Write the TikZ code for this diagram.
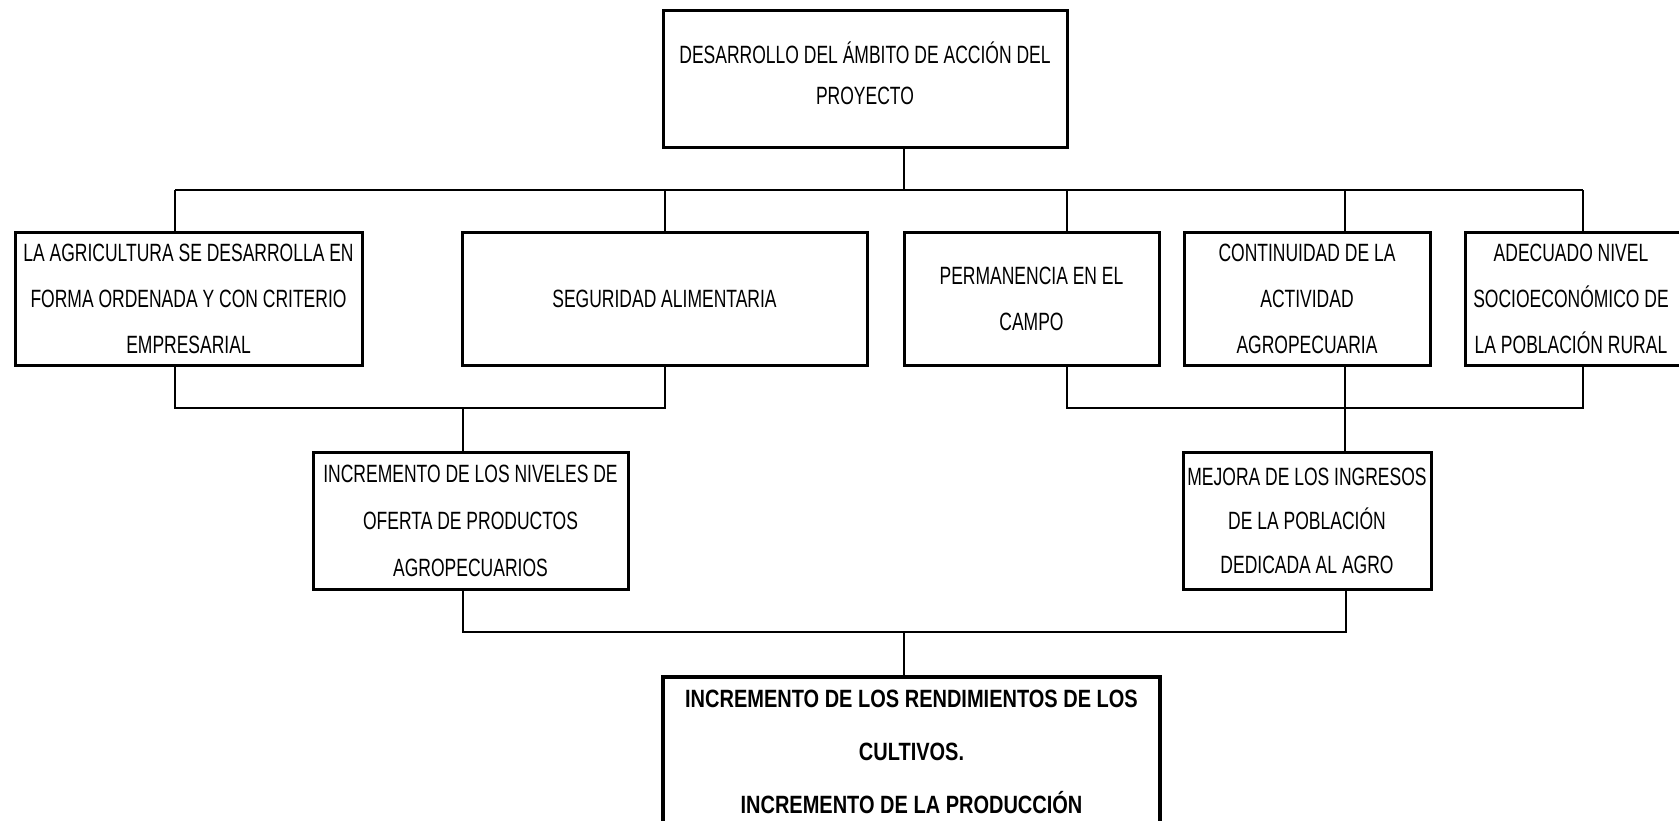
\documentclass[tikz,border=0pt]{standalone}
\usepackage{fontspec}
\setmainfont[FakeStretch=0.70, BoldFeatures={FakeStretch=0.80}]{Liberation Sans}
\begin{document}
\begin{tikzpicture}[x=1pt,y=-1pt,
  box/.style={draw, line width=3pt, inner sep=0pt, align=center, font=\fontsize{25}{46}\selectfont},
  bigbox/.style={draw, line width=4.5pt, inner sep=0pt, align=center, font=\bfseries\fontsize{25}{53}\selectfont},
  txt/.style={inner sep=0pt, align=center, font=\fontsize{25}{46}\selectfont},
  conn/.style={line width=2.6pt, line join=miter}]
\clip (0,0) rectangle (1679,820);
\fill[white] (0,0) rectangle (1679,820);
% boxes
\node[box, minimum width=404pt, minimum height=137pt] (top) at (865,78.5) {};
\node[txt, font=\fontsize{25}{41}\selectfont] (topt) at (865,73) {DESARROLLO DEL ÁMBITO DE ACCIÓN DEL\\PROYECTO};
\node[box, minimum width=347pt, minimum height=133pt] (A) at (188.5,298.5) {LA AGRICULTURA SE DESARROLLA EN\\FORMA ORDENADA Y CON CRITERIO\\EMPRESARIAL};
\node[box, minimum width=405pt, minimum height=133pt] (B) at (664.5,298.5) {SEGURIDAD ALIMENTARIA};
\node[box, minimum width=255pt, minimum height=133pt] (C) at (1031.5,298.5) {PERMANENCIA EN EL\\CAMPO};
\node[box, minimum width=246pt, minimum height=133pt] (D) at (1307,298.5) {CONTINUIDAD DE LA\\ACTIVIDAD\\AGROPECUARIA};
\node[box, minimum width=260pt, minimum height=133pt, anchor=west] (E) at (1464,298.5) {};
\node[txt] (Et) at (1571,298.5) {ADECUADO NIVEL\\SOCIOECONÓMICO DE\\LA POBLACIÓN RURAL};
\node[box, minimum width=315pt, minimum height=137pt, font=\fontsize{25}{47}\selectfont] (F) at (470.5,520.5) {INCREMENTO DE LOS NIVELES DE\\OFERTA DE PRODUCTOS\\AGROPECUARIOS};
\node[box, minimum width=248pt, minimum height=137pt, font=\fontsize{25}{44}\selectfont] (G) at (1307,520.5) {MEJORA DE LOS INGRESOS\\DE LA POBLACIÓN\\DEDICADA AL AGRO};
\node[bigbox, minimum width=497pt, minimum height=149pt] (H) at (911.5,751.5) {INCREMENTO DE LOS RENDIMIENTOS DE LOS\\CULTIVOS.\\INCREMENTO DE LA PRODUCCIÓN};
% coordinates
\coordinate (t0) at (904,190);
\coordinate (ta) at (175,190);
\coordinate (tb) at (665,190);
\coordinate (tc) at (1067,190);
\coordinate (td) at (1345,190);
\coordinate (te) at (1583,190);
\coordinate (la) at (175,408);
\coordinate (lb) at (665,408);
\coordinate (lf) at (463,408);
\coordinate (lc) at (1067,408);
\coordinate (ld) at (1345,408);
\coordinate (le) at (1583,408);
\coordinate (mf) at (463,632);
\coordinate (mg) at (1346,632);
\coordinate (mh) at (904,632);
% connectors
\draw[conn] (top.south -| t0) -- (t0);
\draw[conn] (ta) -- (te);
\draw[conn] (ta) -- (A.north -| ta);
\draw[conn] (tb) -- (B.north -| tb);
\draw[conn] (tc) -- (C.north -| tc);
\draw[conn] (td) -- (D.north -| td);
\draw[conn] (te) -- (E.north -| te);
\draw[conn] (A.south -| la) -- (la) -- (lb) -- (B.south -| lb);
\draw[conn] (lf) -- (F.north -| lf);
\draw[conn] (C.south -| lc) -- (lc) -- (le) -- (E.south -| le);
\draw[conn] (D.south -| ld) -- (G.north -| ld);
\draw[conn] (F.south -| mf) -- (mf) -- (mg) -- (G.south -| mg);
\draw[conn] (mh) -- (H.north -| mh);
\end{tikzpicture}
\end{document}
